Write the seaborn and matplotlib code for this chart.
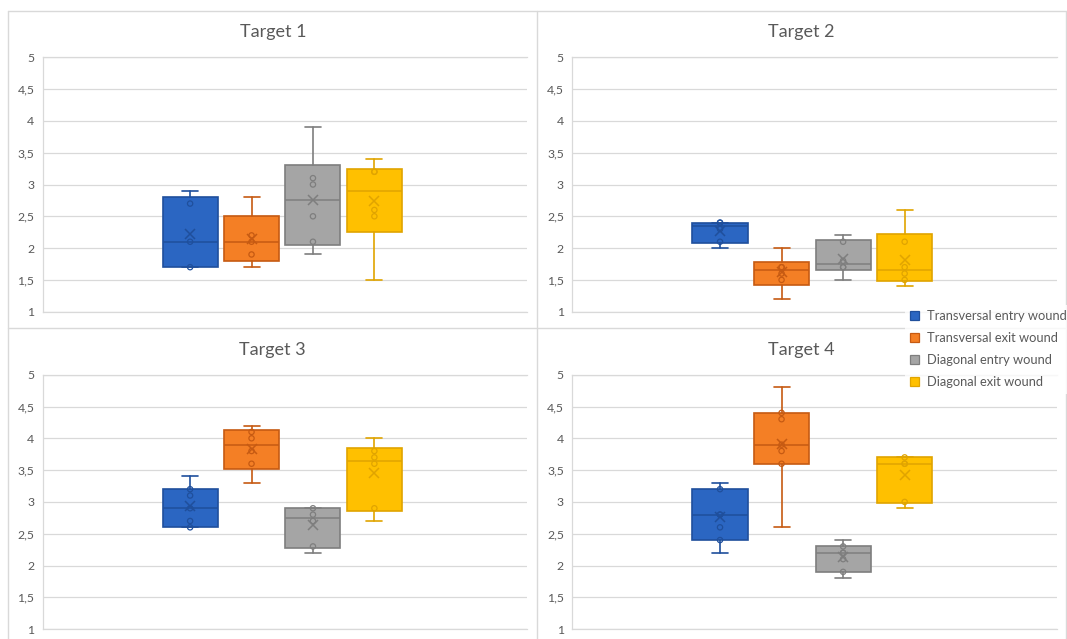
import numpy as np
import pandas as pd
import matplotlib
matplotlib.use("Agg")
import matplotlib.pyplot as plt
import seaborn as sns
from matplotlib.patches import Patch
from matplotlib.lines import Line2D

# ---- data -------------------------------------------------------------
targets = ["Target 1", "Target 2", "Target 3", "Target 4"]
groups = ["Transversal entry wound", "Transversal exit wound",
          "Diagonal entry wound", "Diagonal exit wound"]

t1_transversal_entry = [1.7, 1.7, 2.1, 2.7, 2.9]
t1_transversal_exit = [1.7, 1.9, 2.1, 2.2, 2.8]
t1_diagonal_entry = [1.9, 2.1, 2.5, 3.0, 3.1, 3.9]
t1_diagonal_exit = [1.5, 2.5, 2.6, 3.2, 3.2, 3.4]

t2_transversal_entry = [2.0, 2.1, 2.3, 2.4, 2.4, 2.4]
t2_transversal_exit = [1.2, 1.5, 1.6, 1.7, 1.7, 2.0]
t2_diagonal_entry = [1.5, 1.7, 1.7, 1.8, 2.1, 2.2]
t2_diagonal_exit = [1.4, 1.5, 1.6, 1.7, 2.1, 2.6]

t3_transversal_entry = [2.6, 2.6, 2.7, 2.9, 3.1, 3.2, 3.4]
t3_transversal_exit = [3.3, 3.6, 3.8, 4.0, 4.1, 4.2]
t3_diagonal_entry = [2.2, 2.3, 2.7, 2.8, 2.9, 2.9]
t3_diagonal_exit = [2.7, 2.9, 3.6, 3.7, 3.8, 4.0]

t4_transversal_entry = [2.2, 2.4, 2.6, 2.8, 2.8, 3.2, 3.3]
t4_transversal_exit = [2.6, 3.6, 3.8, 3.9, 4.3, 4.4, 4.8]
t4_diagonal_entry = [1.8, 1.9, 2.1, 2.2, 2.2, 2.3, 2.4]
t4_diagonal_exit = [2.9, 3.0, 3.6, 3.6, 3.7, 3.7]

y_ticks = [1, 1.5, 2, 2.5, 3, 3.5, 4, 4.5, 5]
y_tick_labels = ["1", "1,5", "2", "2,5", "3", "3,5", "4", "4,5", "5"]

panel_data = {
    "Target 1": [t1_transversal_entry, t1_transversal_exit, t1_diagonal_entry, t1_diagonal_exit],
    "Target 2": [t2_transversal_entry, t2_transversal_exit, t2_diagonal_entry, t2_diagonal_exit],
    "Target 3": [t3_transversal_entry, t3_transversal_exit, t3_diagonal_entry, t3_diagonal_exit],
    "Target 4": [t4_transversal_entry, t4_transversal_exit, t4_diagonal_entry, t4_diagonal_exit],
}

# ---- styling ----------------------------------------------------------
fill_colors = ["#2B66C2", "#F47F25", "#A5A5A5", "#FFC000"]
edge_colors = ["#1F4F9C", "#C65A12", "#7E7E7E", "#E0A400"]
grid_color = "#D9D9D9"
text_color = "#595959"

sns.set_theme(style="white")
plt.rcParams["font.family"] = ["Lato", "DejaVu Sans"]

rows = []
for t in targets:
    for gi, (g, vals) in enumerate(zip(groups, panel_data[t])):
        for v in vals:
            rows.append({"target": t, "group": g, "pos": gi, "value": v})
df = pd.DataFrame(rows)


def box_stats(vals):
    """Exclusive-quartile box statistics with 1.5 IQR whiskers."""
    v = np.sort(np.asarray(vals, dtype=float))
    q1, med, q3 = np.percentile(v, [25, 50, 75], method="weibull")
    iqr = q3 - q1
    lo = v[v >= q1 - 1.5 * iqr].min()
    hi = v[v <= q3 + 1.5 * iqr].max()
    return {"med": med, "q1": q1, "q3": q3, "whislo": lo, "whishi": hi,
            "mean": v.mean(), "fliers": []}


W, H = 1067, 639
fig = plt.figure(figsize=(W / 100, H / 100), dpi=100)


def px_axes(x0, y0, x1, y1):
    return fig.add_axes([x0 / W, 1 - y1 / H, (x1 - x0) / W, (y1 - y0) / H])


panel_boxes = {
    "Target 1": (42.7, 57.3, 526.7, 311.7),
    "Target 2": (572.3, 57.3, 1057.3, 311.7),
    "Target 3": (42.7, 374.7, 526.7, 629.1),
    "Target 4": (572.3, 374.7, 1057.3, 629.1),
}
title_pos = {
    "Target 1": (272.8, 31.5),
    "Target 2": (801.7, 31.5),
    "Target 3": (272.8, 349.5),
    "Target 4": (801.7, 349.5),
}

hue_edges = dict(zip(groups, edge_colors))

for t in targets:
    ax = px_axes(*panel_boxes[t])
    sub = df[df["target"] == t]

    stats = [box_stats(sub.loc[sub["group"] == g, "value"]) for g in groups]
    art = ax.bxp(stats, positions=range(len(groups)), widths=0.895,
                 capwidths=0.26, patch_artist=True, showfliers=False,
                 manage_ticks=False, zorder=3)
    for i in range(len(groups)):
        art["boxes"][i].set(facecolor=fill_colors[i], edgecolor=edge_colors[i], linewidth=1.2)
        art["medians"][i].set(color=edge_colors[i], linewidth=1.1)
        for ln in art["whiskers"][2 * i:2 * i + 2] + art["caps"][2 * i:2 * i + 2]:
            ln.set(color=edge_colors[i], linewidth=1.2)

    # inner points: every value except the lowest and highest of each group
    inner = (sub.sort_values("value")
                .groupby("group", group_keys=False)
                .apply(lambda d: d.iloc[1:-1]))
    n_before = len(ax.collections)
    sns.stripplot(data=inner, x="pos", y="value", hue="group", hue_order=groups,
                  palette=hue_edges, native_scale=True, jitter=False, size=3.8,
                  linewidth=0.9, legend=False, ax=ax, zorder=5)
    for coll in ax.collections[n_before:]:
        fc = coll.get_facecolor()
        coll.set_edgecolor(fc)
        coll.set_facecolor("none")

    # mean markers
    sns.pointplot(data=sub, x="pos", y="value", hue="group", hue_order=groups,
                  palette=hue_edges, native_scale=True, estimator="mean",
                  errorbar=None, markers="x", linestyles="none", legend=False,
                  markersize=7, markeredgewidth=1.1, ax=ax, zorder=6)

    ax.set_xlim(-2.4, 5.48)
    ax.set_ylim(1, 5)
    ax.set_yticks(y_ticks)
    ax.set_yticklabels(y_tick_labels)
    ax.set_xticks([])
    ax.set_xlabel("")
    ax.set_ylabel("")
    ax.yaxis.grid(True, color=grid_color, linewidth=0.9)
    ax.set_axisbelow(True)
    for side in ["left", "top", "bottom"]:
        ax.spines[side].set_visible(True)
        ax.spines[side].set_color(grid_color)
        ax.spines[side].set_linewidth(0.9)
    ax.spines["right"].set_visible(False)
    ax.tick_params(axis="y", length=0, pad=6, labelsize=8.8, labelcolor=text_color)
    ax.patch.set_alpha(0)

    tx, ty = title_pos[t]
    fig.text(tx / W, 1 - ty / H, t, ha="center", va="center",
             fontsize=13, color=text_color)

# chart-area borders
border_kw = dict(color=grid_color, linewidth=1.0, transform=fig.transFigure, zorder=1)
for xs, ys in [((8.3, 1066), (10.7, 10.7)), ((8.3, 8.3), (10.7, 639)),
               ((1066, 1066), (10.7, 639)), ((537.3, 537.3), (10.7, 639)),
               ((8.3, 1066), (328.3, 328.3))]:
    fig.add_artist(Line2D([x / W for x in xs], [1 - y / H for y in ys], **border_kw))

handles = [Patch(facecolor=fc, edgecolor=ec, linewidth=0.9)
           for fc, ec in zip(fill_colors, edge_colors)]
leg = fig.legend(handles, groups, loc="upper left",
                 bbox_to_anchor=(905 / W, 1 - 305 / H), frameon=True,
                 facecolor="white", edgecolor="none", fancybox=False,
                 fontsize=9.3, handlelength=0.72, handleheight=0.72,
                 handletextpad=0.55, labelspacing=0.78, borderpad=0.4,
                 borderaxespad=0)
for txt in leg.get_texts():
    txt.set_color(text_color)
leg.set_zorder(10)

fig.savefig("out.png", dpi=100)
